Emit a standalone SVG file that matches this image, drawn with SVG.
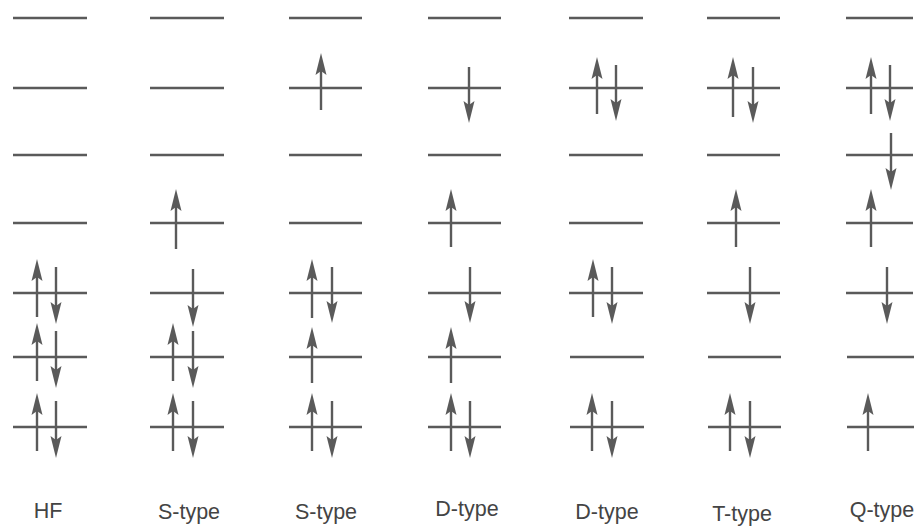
<svg xmlns="http://www.w3.org/2000/svg" width="917" height="526" viewBox="0 0 917 526">
<style>
  .lv { stroke: #5a5a5a; stroke-width: 2.4; fill: none; }
  .ar { stroke: #5a5a5a; stroke-width: 2.4; fill: none; marker-end: url(#head); }
  .lb { font-family: "Liberation Sans", Arial, sans-serif; font-size: 21.5px; fill: #444; text-anchor: middle; }
</style>
<defs>
  <marker id="head" markerUnits="userSpaceOnUse" markerWidth="22" markerHeight="11" refX="12" refY="5.5" orient="auto" overflow="visible">
    <path d="M0,0 L22,5.5 L0,11 L4,5.5 z" fill="#5a5a5a"/>
  </marker>
</defs>
<rect width="917" height="526" fill="#fff"/>

<g id="col-hf">
  <path class="lv" d="M13,18H87 M13,88H87 M13,155H87 M13,223H87 M13,293H87 M13,357H87 M13,427H87"/>
  <path class="ar" d="M37,317V269"/><path class="ar" d="M56,267V314"/>
  <path class="ar" d="M37,381V333"/><path class="ar" d="M56,331V378"/>
  <path class="ar" d="M37,451V403"/><path class="ar" d="M56,401V448"/>
  <text class="lb" x="48" y="518">HF</text>
</g>

<g id="col-s1">
  <path class="lv" d="M150,18H224 M150,88H224 M150,155H224 M150,223H224 M150,293H224 M150,357H224 M150,427H224"/>
  <path class="ar" d="M176,249V199"/>
  <path class="ar" d="M193,269V317"/>
  <path class="ar" d="M173,381V333"/><path class="ar" d="M193,331V378"/>
  <path class="ar" d="M173,451V403"/><path class="ar" d="M193,401V448"/>
  <text class="lb" x="189" y="519">S-type</text>
</g>

<g id="col-s2">
  <path class="lv" d="M289,18H362 M289,88H362 M289,155H362 M289,223H362 M289,293H362 M289,357H362 M289,427H362"/>
  <path class="ar" d="M321,110V63"/>
  <path class="ar" d="M312,318V269"/><path class="ar" d="M332,267V313"/>
  <path class="ar" d="M312,383V337"/>
  <path class="ar" d="M312,451V403"/><path class="ar" d="M332,401V448"/>
  <text class="lb" x="326" y="519">S-type</text>
</g>

<g id="col-d1">
  <path class="lv" d="M428,18H501 M428,88H501 M428,155H501 M428,223H501 M428,293H501 M428,357H501 M428,427H501"/>
  <path class="ar" d="M469,67V113"/>
  <path class="ar" d="M451,247V199"/>
  <path class="ar" d="M470,267V313"/>
  <path class="ar" d="M451,383V337"/>
  <path class="ar" d="M451,451V403"/><path class="ar" d="M470,401V448"/>
  <text class="lb" x="467" y="516">D-type</text>
</g>

<g id="col-d2">
  <path class="lv" d="M569,18H643 M569,88H643 M569,155H643 M569,223H643 M569,293H643 M570,357H644 M570,427H644"/>
  <path class="ar" d="M597,114V67"/><path class="ar" d="M616,65V111"/>
  <path class="ar" d="M593,317V269"/><path class="ar" d="M612,267V314"/>
  <path class="ar" d="M592,451V403"/><path class="ar" d="M612,401V448"/>
  <text class="lb" x="607" y="519">D-type</text>
</g>

<g id="col-t">
  <path class="lv" d="M707,18H780 M707,88H780 M707,155H780 M707,223H780 M707,293H780 M708,357H781 M708,427H781"/>
  <path class="ar" d="M733,117V67"/><path class="ar" d="M753,67V113"/>
  <path class="ar" d="M736,247V199"/>
  <path class="ar" d="M750,267V314"/>
  <path class="ar" d="M730,451V403"/><path class="ar" d="M750,401V448"/>
  <text class="lb" x="742" y="521">T-type</text>
</g>

<g id="col-q">
  <path class="lv" d="M846,18H913 M846,88H913 M846,155H913 M846,223H913 M846,293H913 M847,357H914 M847,427H914"/>
  <path class="ar" d="M871,114V67"/><path class="ar" d="M890,65V111"/>
  <path class="ar" d="M891,133V180"/>
  <path class="ar" d="M871,247V199"/>
  <path class="ar" d="M887,267V314"/>
  <path class="ar" d="M868,451V403"/>
  <text class="lb" x="882" y="517">Q-type</text>
</g>

<g id="connectors"></g>
</svg>
